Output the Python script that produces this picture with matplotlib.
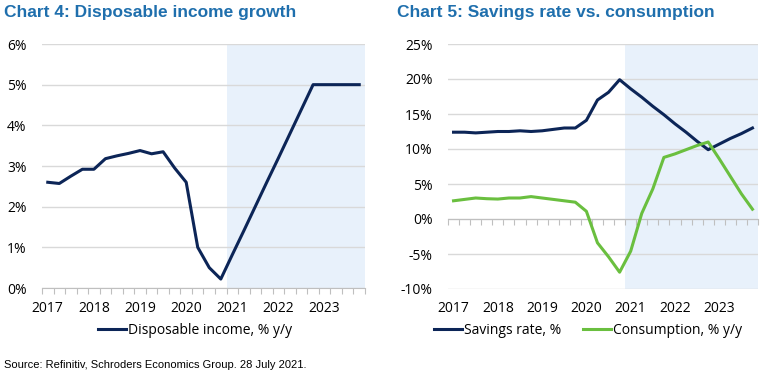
import numpy as np
import matplotlib
matplotlib.use("Agg")
import matplotlib.pyplot as plt
from matplotlib.ticker import FuncFormatter, FixedLocator

# quarterly data, 2017Q1 .. 2023Q4
years = ["2017", "2018", "2019", "2020", "2021", "2022", "2023"]
disp_income = [2.60, 2.57, 2.75, 2.92, 2.92, 3.18, 3.25, 3.31, 3.38, 3.30, 3.35, 2.95,
               2.60, 1.00, 0.50, 0.22, 0.82, 1.41, 2.01, 2.61, 3.20, 3.80, 4.40, 5.00,
               5.00, 5.00, 5.00, 5.00]
savings = [12.4, 12.4, 12.3, 12.4, 12.5, 12.5, 12.6, 12.5, 12.6, 12.8, 13.0, 13.0,
           14.1, 17.0, 18.1, 19.9, 18.6, 17.4, 16.1, 14.9, 13.6, 12.4, 11.1, 9.9,
           10.7, 11.5, 12.2, 13.0]
consumption = [2.6, 2.8, 3.0, 2.9, 2.85, 3.0, 3.0, 3.2, 3.0, 2.8, 2.6, 2.4,
               1.1, -3.4, -5.4, -7.6, -4.6, 0.8, 4.3, 8.8, 9.3, 9.9, 10.5, 11.0,
               8.6, 6.1, 3.6, 1.4]
forecast_start = 16  # 2021Q1

navy = "#0c2557"
green = "#6abf3f"
shade = "#e8f1fb"
title_col = "#1f6fad"
grid_col = "#d9d9d9"
axis_col = "#bfbfbf"
tick_font = "Open Sans"

fig = plt.figure(figsize=(7.7, 3.75), dpi=100)
W, H = 770, 375


def make_axes(x0, x1, y0, y1):
    return fig.add_axes([x0 / W, 1 - y1 / H, (x1 - x0) / W, (y1 - y0) / H])


def style(ax, n):
    ax.set_xlim(-0.5, n - 0.5)
    ax.axvspan(forecast_start - 0.5, n - 0.5, color=shade, zorder=0, lw=0)
    for s in ["top", "right", "left"]:
        ax.spines[s].set_visible(False)
    ax.yaxis.grid(True, color=grid_col, lw=1)
    ax.set_axisbelow(True)
    ax.tick_params(axis="y", length=0, labelsize=10, pad=11)
    for lab in ax.get_yticklabels():
        lab.set_fontfamily(tick_font)
    ax.yaxis.set_major_formatter(FuncFormatter(lambda v, p: f"{v:.0f}%"))
    # quarter boundary tick marks on the zero line
    ax.spines["bottom"].set_color(axis_col)
    ax.spines["bottom"].set_position(("data", 0))
    ax.xaxis.set_major_locator(FixedLocator(np.arange(-0.5, n, 1)))
    ax.tick_params(axis="x", which="major", length=4, color=axis_col, labelbottom=False)
    # year labels at the bottom of the plot area
    sec = ax.secondary_xaxis(0.0)
    sec.set_xticks(np.arange(0, n, 4), years)
    sec.tick_params(length=0, labelsize=10, pad=9)
    sec.spines["bottom"].set_visible(False)
    for lab in sec.get_xticklabels():
        lab.set_fontfamily(tick_font)


x = np.arange(len(disp_income))
leg_y = 1 - 330 / H

# Chart 4
ax1 = make_axes(42, 365, 44, 288)
ax1.set_ylim(0, 6)
ax1.set_yticks(range(0, 7))
style(ax1, len(x))
ax1.plot(x, disp_income, color=navy, lw=2.2, label="Disposable income, % y/y", zorder=3)
ax1.legend(loc="center", bbox_to_anchor=(195 / W, leg_y), bbox_transform=fig.transFigure,
           frameon=False, prop={"family": tick_font, "size": 10},
           handlelength=2.0, handletextpad=0.15)

# Chart 5
ax2 = make_axes(448, 758, 44, 289)
ax2.set_ylim(-10, 25)
ax2.set_yticks(range(-10, 26, 5))
style(ax2, len(x))
ax2.plot(x, savings, color=navy, lw=2.2, label="Savings rate, %", zorder=3)
ax2.plot(x, consumption, color=green, lw=2.2, label="Consumption, % y/y", zorder=3)
ax2.legend(loc="center", bbox_to_anchor=(588 / W, leg_y), bbox_transform=fig.transFigure,
           frameon=False, ncol=2, prop={"family": tick_font, "size": 10},
           handlelength=2.0, handletextpad=0.15, columnspacing=1.6)

fig.text(4 / W, 1 - 12 / H, "Chart 4: Disposable income growth", color=title_col,
         fontsize=12.5, fontweight="bold", family="Liberation Sans", va="center")
fig.text(397 / W, 1 - 12 / H, "Chart 5: Savings rate vs. consumption", color=title_col,
         fontsize=12.5, fontweight="bold", family="Liberation Sans", va="center")
fig.text(4 / W, 1 - 365 / H, "Source: Refinitiv, Schroders Economics Group. 28 July 2021.",
         fontsize=8, family="Liberation Sans", va="center")

fig.savefig("out.png", dpi=100)
